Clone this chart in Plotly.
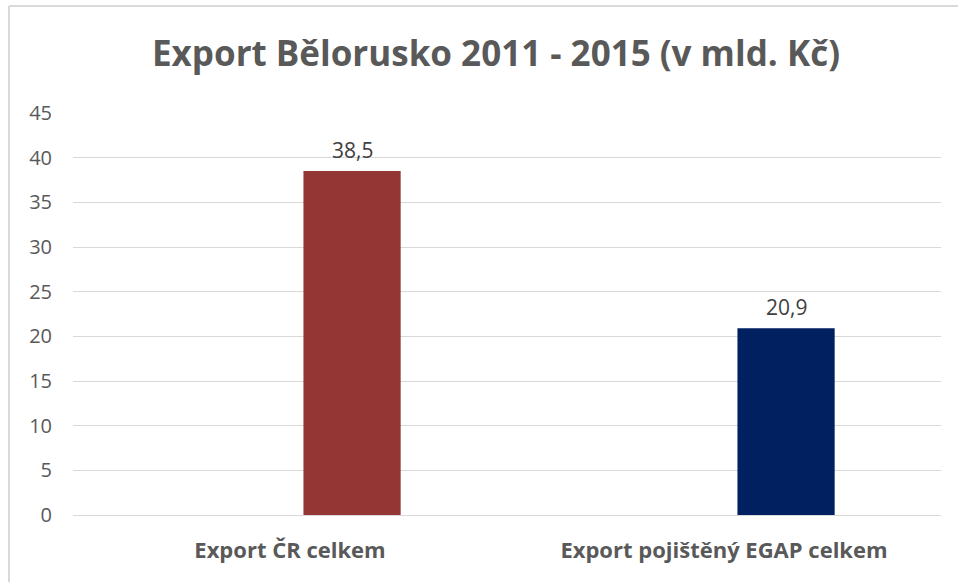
import plotly.graph_objects as go

categories = ["Export ČR celkem", "Export pojištěný EGAP celkem"]
values = [38.5, 20.9]
labels = ["38,5", "20,9"]
colors = ["#943634", "#002060"]
y_ticks = [0, 5, 10, 15, 20, 25, 30, 35, 40, 45]

W, H = 958, 582
L, R, T, B = 73, 17, 113, 67
pw = W - L - R
ph = H - T - B

BAR_W = 0.224
BAR_OFF = 0.031

fig = go.Figure()
fig.add_trace(go.Bar(
    x=categories, y=values,
    marker=dict(color=colors, line=dict(width=0)),
    width=BAR_W, offset=BAR_OFF,
    hoverinfo="skip",
))

annotations = []
for i, (v, t) in enumerate(zip(values, labels)):
    annotations.append(dict(
        x=i + BAR_OFF + BAR_W / 2, y=v, xref="x", yref="y",
        text=t, showarrow=False, yanchor="bottom", xanchor="center", yshift=5,
        font=dict(family="Open Sans", size=21, color="#404040"),
    ))

fig.update_layout(
    width=W, height=H,
    margin=dict(l=L, r=R, t=T, b=B),
    paper_bgcolor="white", plot_bgcolor="white",
    showlegend=False,
    title=dict(
        text="<b>Export Bělorusko 2011 - 2015 (v mld. Kč)</b>",
        x=496 / W, xanchor="center", y=1 - 54 / H, yanchor="middle",
        font=dict(family="Open Sans", size=35, color="#595959"),
    ),
    xaxis=dict(
        showgrid=False, showline=True, linecolor="#d9d9d9", linewidth=1,
        ticks="", ticklabelstandoff=16,
        tickfont=dict(family="Open Sans", size=22, color="#595959", weight="bold"),
    ),
    yaxis=dict(
        range=[0, 45], tickvals=y_ticks, showgrid=True, gridcolor="#d9d9d9",
        gridwidth=1, zeroline=False, showline=False, ticks="",
        tickfont=dict(family="Open Sans", size=20, color="#595959"),
        ticklabelstandoff=20,
    ),
    annotations=annotations,
    shapes=[
        dict(type="line", xref="paper", yref="paper",
             x0=(9 - L) / pw, x1=(9 - L) / pw, y0=-B / ph, y1=(H - 6 - B) / ph,
             line=dict(color="#d9d9d9", width=2)),
        dict(type="line", xref="paper", yref="paper",
             x0=(9 - L) / pw, x1=(W - L) / pw, y0=(H - 6 - B) / ph, y1=(H - 6 - B) / ph,
             line=dict(color="#d9d9d9", width=2)),
    ],
)

fig.write_html("out.html", config={"displayModeBar": False},
               post_script="document.body.style.margin='0';")
